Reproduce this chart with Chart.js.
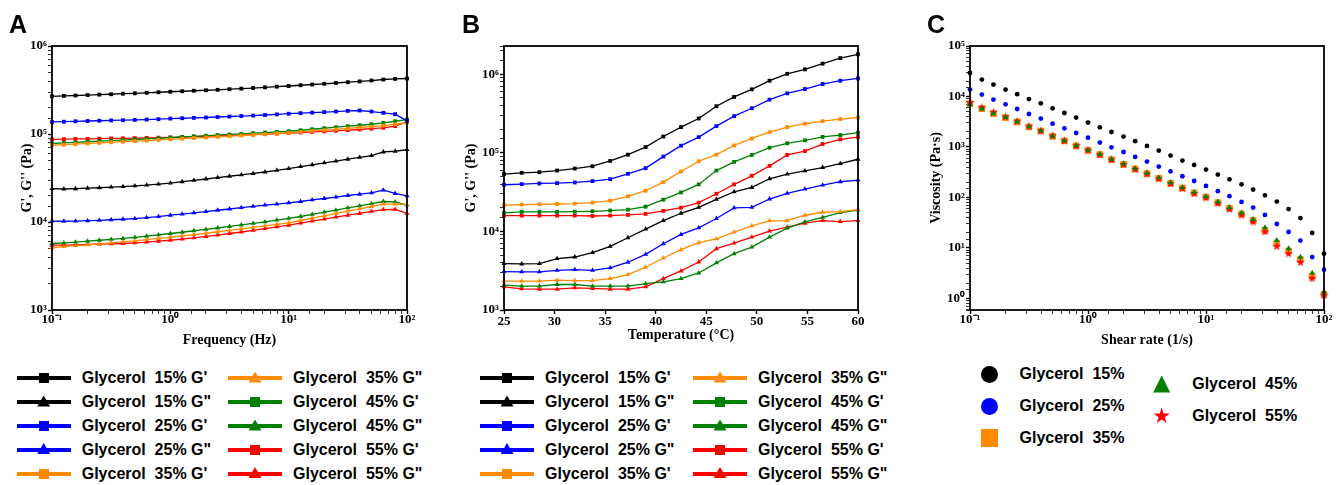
<!DOCTYPE html>
<html>
<head>
<meta charset="utf-8">
<title>Glycerol rheology</title>
<script src="https://cdn.jsdelivr.net/npm/chart.js@4"></script>
<style>
  body { margin: 0; background: #fff; }
  #wrap { position: relative; width: 1339px; height: 485px; overflow: hidden; font-family: 'Liberation Sans', Arial, sans-serif; }
  canvas { position: absolute; top: 0; }
  .tag { position: absolute; top: 12px; font: bold 25px/25px 'Liberation Sans', Arial, sans-serif; }
  .item { position: absolute; height: 20px; display: flex; align-items: center; white-space: pre; font-weight: bold; font-size: 16px; color: #000; }
  .sw { position: relative; width: 54px; height: 20px; flex: none; }
  .ln { position: absolute; left: 0; top: 8px; width: 54px; height: 4px; }
  .mk { position: absolute; }
  .sq { left: 22px; top: 5px; width: 10px; height: 10px; }
  .tri { left: 20.5px; top: 3.5px; width: 13px; height: 11px; clip-path: polygon(50% 0, 100% 100%, 0 100%); }
  .lb { margin-left: 11px; }
  .citem { position: absolute; height: 20px; display: flex; align-items: center; white-space: pre; font-weight: bold; font-size: 16px; }
  .big { width: 17px; height: 17px; flex: none; }
  .circle { border-radius: 50%; }
  .bsq { height: 18px; }
  .btri { clip-path: polygon(50% 0, 100% 100%, 0 100%); }
  .star { clip-path: polygon(50% 0, 61% 35%, 98% 35%, 68% 57%, 79% 91%, 50% 70%, 21% 91%, 32% 57%, 2% 35%, 39% 35%); }
  .clb { margin-left: 22px; }
</style>
</head>
<body>
<div id="wrap">
  <canvas id="cA" width="420" height="350" style="left:0"></canvas>
  <canvas id="cB" width="440" height="350" style="left:440px"></canvas>
  <canvas id="cC" width="439" height="350" style="left:900px"></canvas>
  <div class="tag" style="left:9px">A</div>
  <div class="tag" style="left:462px">B</div>
  <div class="tag" style="left:927px">C</div>
</div>
<script>
// ---- A: frequency sweep ----
const freqHz = [0.1, 0.126, 0.158, 0.2, 0.251, 0.316, 0.398, 0.501, 0.631, 0.794, 1, 1.26, 1.58, 2, 2.51, 3.16, 3.98, 5.01, 6.31, 7.94, 10, 12.6, 15.8, 20, 25.1, 31.6, 39.8, 50.1, 63.1, 79.4, 100];
const freqG1_15 = [268000, 271000, 274000, 277000, 280000, 283000, 287000, 290000, 294000, 298000, 302000, 306000, 310000, 314000, 318000, 323000, 328000, 333000, 339000, 345000, 351000, 358000, 365000, 372000, 380000, 388000, 396000, 405000, 416000, 423000, 427000];
const freqG2_15 = [24000, 23700, 23900, 24200, 24500, 24900, 25300, 25800, 26300, 27000, 27700, 28700, 29700, 30800, 31900, 33100, 34300, 35600, 37000, 38600, 40500, 42600, 44700, 47000, 49300, 51700, 54300, 56900, 62500, 63700, 66500];
const freqG1_25 = [137000, 138000, 139500, 140500, 141500, 142500, 143500, 144500, 146000, 147500, 149500, 151000, 152500, 154000, 156000, 158000, 160000, 162000, 164500, 167000, 170000, 172500, 175000, 177500, 180000, 183000, 185000, 180000, 174000, 168000, 141000];
const freqG2_25 = [10250, 10200, 10250, 10350, 10450, 10600, 10750, 10950, 11200, 11500, 11950, 12300, 12700, 13150, 13600, 14050, 14550, 15050, 15550, 16000, 16500, 17100, 17850, 18500, 19150, 20000, 20700, 21400, 23000, 21100, 19800];
const freqG1_35 = [74500, 75700, 76900, 78100, 79300, 80500, 81700, 83000, 84300, 85600, 87000, 88500, 90000, 91500, 93000, 94600, 96200, 97800, 99500, 101200, 103000, 105500, 108000, 110500, 113000, 115700, 118500, 121400, 124500, 129000, 135000];
const freqG2_35 = [5100, 5250, 5400, 5500, 5650, 5800, 5950, 6100, 6300, 6500, 6700, 6950, 7200, 7450, 7750, 8050, 8350, 8700, 9050, 9400, 9800, 10400, 11050, 11750, 12500, 13300, 14100, 15000, 15950, 16000, 15800];
const freqG1_45 = [78000, 79200, 80400, 81600, 82800, 84000, 85300, 86600, 87900, 89400, 91000, 92500, 94000, 95600, 97200, 98800, 100500, 102200, 103900, 105600, 107400, 110300, 113300, 116300, 119400, 122600, 125800, 129100, 133600, 139600, 146000];
const freqG2_45 = [5700, 5800, 5900, 6050, 6200, 6350, 6500, 6700, 6900, 7150, 7400, 7650, 7950, 8250, 8550, 8900, 9250, 9650, 10050, 10500, 11000, 11550, 12200, 12950, 13650, 14500, 15250, 16200, 17100, 16950, 15550];
const freqG1_55 = [87000, 87400, 87800, 88200, 88600, 89000, 89400, 89900, 90400, 90900, 91500, 92400, 93300, 94200, 95200, 96200, 97300, 98400, 99600, 101000, 102500, 104000, 105500, 107000, 108700, 110500, 112500, 114800, 117500, 123000, 137000];
const freqG2_55 = [5450, 5450, 5500, 5550, 5600, 5650, 5700, 5800, 5900, 6050, 6200, 6400, 6600, 6850, 7100, 7400, 7700, 8050, 8400, 8800, 9200, 9700, 10250, 10800, 11350, 11950, 12500, 13200, 13850, 13900, 12500];

// ---- B: temperature sweep ----
const tempC = [25, 26.75, 28.5, 30.25, 32, 33.75, 35.5, 37.25, 39, 40.75, 42.5, 44.25, 46, 47.75, 49.5, 51.25, 53, 54.75, 56.5, 58.25, 60];
const tempG1_15 = [53500, 55600, 56600, 59400, 63000, 67400, 78700, 94600, 118000, 161000, 212000, 273000, 391000, 513000, 641000, 825000, 1010000, 1150000, 1360000, 1600000, 1790000];
const tempG2_15 = [3890, 3850, 3890, 4500, 4720, 5360, 6450, 8300, 10700, 13700, 17000, 20200, 25600, 31900, 36200, 46700, 53500, 58900, 64900, 72900, 82700];
const tempG1_25 = [39200, 39900, 40700, 41100, 41900, 43600, 46200, 54000, 63700, 89400, 123000, 158000, 218000, 292000, 368000, 474000, 570000, 647000, 749000, 825000, 883000];
const tempG2_25 = [3080, 3050, 3050, 3200, 3270, 3200, 3430, 4050, 5110, 6970, 9140, 11100, 14600, 19900, 20200, 25800, 30400, 34500, 38800, 42800, 44900];
const tempG1_35 = [21500, 21900, 22100, 22300, 22500, 23200, 24600, 27900, 32900, 42300, 57700, 78000, 94600, 124000, 152000, 183000, 212000, 234000, 252000, 268000, 281000];
const tempG2_35 = [2330, 2330, 2330, 2395, 2370, 2370, 2510, 2825, 3500, 4590, 5850, 7170, 8050, 9780, 11760, 13600, 13730, 16040, 17500, 17850, 18920];
const tempG1_45 = [17200, 17700, 17700, 17700, 17800, 18000, 18400, 18900, 20600, 25300, 31300, 39600, 59400, 76600, 93800, 116000, 132000, 144000, 159000, 168000, 180000];
const tempG2_45 = [2070, 2010, 2010, 2110, 2110, 2010, 2010, 2010, 2170, 2280, 2510, 2960, 3970, 5200, 6320, 8460, 11000, 13200, 15100, 17300, 18700];
const tempG1_55 = [15900, 15900, 15900, 15900, 15900, 15700, 15900, 16200, 16700, 18200, 20000, 23200, 30100, 39600, 50900, 68100, 93800, 105000, 129000, 148000, 158000];
const tempG2_55 = [1970, 1860, 1840, 1840, 1910, 1880, 1840, 1840, 1970, 2510, 3140, 4080, 6020, 7100, 8460, 10100, 11300, 12700, 13700, 13300, 13700];

// ---- C: flow curves ----
const shearRate = [0.1, 0.126, 0.158, 0.2, 0.251, 0.316, 0.398, 0.501, 0.631, 0.794, 1, 1.26, 1.58, 2, 2.51, 3.16, 3.98, 5.01, 6.31, 7.94, 10, 12.6, 15.8, 20, 25.1, 31.6, 39.8, 50.1, 63.1, 79.4, 100];
const visc15 = [29200, 21600, 17200, 13700, 11100, 8900, 7330, 5840, 4710, 3820, 3040, 2450, 1980, 1610, 1300, 1050, 849, 676, 538, 440, 357, 284, 229, 182, 143, 110, 83, 59, 39, 19.8, 7.7];
const visc25 = [13700, 10900, 8690, 7010, 5650, 4500, 3650, 2900, 2340, 1890, 1530, 1220, 986, 796, 634, 514, 409, 330, 263, 212, 169, 133, 106, 81.5, 63, 45, 29.8, 20.7, 14, 6.6, 3.7];
const visc35 = [7230, 5750, 4580, 3820, 3130, 2490, 2070, 1630, 1320, 1050, 861, 708, 563, 454, 367, 297, 240, 191, 154, 123, 102, 79, 61, 47, 35, 22.4, 12.2, 8.7, 5.9, 2.75, 1.21];
const visc45 = [7000, 5700, 4600, 3850, 3150, 2520, 2090, 1650, 1340, 1070, 870, 715, 572, 462, 374, 303, 246, 197, 158, 127, 104, 82, 64, 49.5, 37, 25.3, 14.2, 9.7, 6.6, 3.2, 1.35];
const visc55 = [7600, 6100, 4900, 3950, 3250, 2560, 2100, 1660, 1330, 1060, 860, 705, 560, 450, 362, 293, 236, 188, 151, 120, 99, 77, 59, 45, 33, 21, 10.8, 7.7, 5.2, 2.5, 1.16];

const colors = { '15%': '#000000', '25%': '#0000ff', '35%': '#ff8c00', '45%': '#008000', '55%': '#ff0000' };
const serif = "'Liberation Serif', 'Times New Roman', serif";
Chart.defaults.font.family = serif;
Chart.defaults.color = '#000';

const supMap = { '-': '\u207b', '0': '\u2070', '1': '\u00b9', '2': '\u00b2', '3': '\u00b3', '4': '\u2074', '5': '\u2075', '6': '\u2076', '7': '\u2077', '8': '\u2078', '9': '\u2079' };
function isPow(v) { const e = Math.log10(v); return Math.abs(e - Math.round(e)) < 1e-6; }
function powLabel(v) {
  if (!isPow(v)) return '';
  return '10' + String(Math.round(Math.log10(v))).split('').map(c => supMap[c]).join('');
}

// box round the plot area
const frame = {
  id: 'frame',
  afterDatasetsDraw(chart) {
    const { ctx, chartArea: a } = chart;
    ctx.save();
    ctx.strokeStyle = '#000';
    ctx.lineWidth = 1.8;
    ctx.strokeRect(a.left, a.top, a.right - a.left, a.bottom - a.top);
    ctx.restore();
  }
};

const tickFont = { family: serif, size: 13, weight: 'bold', lineHeight: 1 };
const titleFont = { family: serif, size: 14, weight: 'bold' };

function axis(type, min, max, fit, title, titlePad, extra) {
  const horiz = fit.height !== undefined;
  return Object.assign({
    type, min, max,
    afterFit: s => { if (horiz) s.height = fit.height; else s.width = fit.width; },
    border: { display: false },
    grid: {
      drawOnChartArea: false, drawTicks: true, tickLength: 4, color: '#000',
      tickWidth: c => (type === 'logarithmic' && !isPow(c.tick.value) ? 0.8 : 1.4)
    },
    ticks: { autoSkip: false, maxRotation: 0, color: '#000', font: tickFont, padding: horiz ? -1 : 1,
      callback: type === 'logarithmic' ? v => powLabel(v) : v => v },
    title: { display: true, text: title, font: titleFont, color: '#000', padding: titlePad }
  }, extra || {});
}

function lineSet(name, color, mark, xs, ys) {
  return {
    label: name, data: xs.map((x, i) => ({ x, y: ys[i] })),
    borderColor: color, backgroundColor: color, borderWidth: 1.3,
    pointStyle: mark === 'sq' ? 'rect' : 'triangle', pointRadius: mark === 'sq' ? 2.7 : 2.9,
    pointBorderWidth: 0, tension: 0, clip: false
  };
}

// series in legend order (column by column)
const seriesA = [
  ["Glycerol  15% G'", '15%', 'sq', freqG1_15], ['Glycerol  15% G"', '15%', 'tri', freqG2_15],
  ["Glycerol  25% G'", '25%', 'sq', freqG1_25], ['Glycerol  25% G"', '25%', 'tri', freqG2_25],
  ["Glycerol  35% G'", '35%', 'sq', freqG1_35], ['Glycerol  35% G"', '35%', 'tri', freqG2_35],
  ["Glycerol  45% G'", '45%', 'sq', freqG1_45], ['Glycerol  45% G"', '45%', 'tri', freqG2_45],
  ["Glycerol  55% G'", '55%', 'sq', freqG1_55], ['Glycerol  55% G"', '55%', 'tri', freqG2_55]
];
const seriesB = [
  ["Glycerol  15% G'", '15%', 'sq', tempG1_15], ['Glycerol  15% G"', '15%', 'tri', tempG2_15],
  ["Glycerol  25% G'", '25%', 'sq', tempG1_25], ['Glycerol  25% G"', '25%', 'tri', tempG2_25],
  ["Glycerol  35% G'", '35%', 'sq', tempG1_35], ['Glycerol  35% G"', '35%', 'tri', tempG2_35],
  ["Glycerol  45% G'", '45%', 'sq', tempG1_45], ['Glycerol  45% G"', '45%', 'tri', tempG2_45],
  ["Glycerol  55% G'", '55%', 'sq', tempG1_55], ['Glycerol  55% G"', '55%', 'tri', tempG2_55]
];

const baseOpts = { responsive: false, animation: false, events: [],
  plugins: { legend: { display: false }, tooltip: { enabled: false } } };

new Chart(document.getElementById('cA'), {
  type: 'line',
  data: { datasets: seriesA.map(s => lineSet(s[0], colors[s[1]], s[2], freqHz, s[3])) },
  options: Object.assign({}, baseOpts, {
    layout: { padding: { left: 0, top: 46, right: 13, bottom: 0 } },
    scales: {
      x: axis('logarithmic', 0.1, 100, { height: 40 }, 'Frequency (Hz)', { top: 0, bottom: 1.6 }),
      y: axis('logarithmic', 1e3, 1e6, { width: 52 }, "G', G'' (Pa)", { top: 18.6, bottom: 0 })
    }
  }),
  plugins: [frame]
});

new Chart(document.getElementById('cB'), {
  type: 'line',
  data: { datasets: seriesB.map(s => lineSet(s[0], colors[s[1]], s[2], tempC, s[3])) },
  options: Object.assign({}, baseOpts, {
    layout: { padding: { left: 0, top: 46, right: 22, bottom: 0 } },
    scales: {
      x: axis('linear', 25, 60, { height: 40 }, 'Temperature (\u00b0C)', { top: 0, bottom: 6.6 },
        { ticks: { stepSize: 5, maxRotation: 0, color: '#000', font: tickFont, padding: 1 } }),
      y: axis('logarithmic', 1e3, 2.28e6, { width: 64 }, "G', G'' (Pa)", { top: 23.3, bottom: 0 })
    }
  }),
  plugins: [frame]
});

// small filled five-point star for the 55% points
const starImg = document.createElement('canvas');
starImg.width = 9; starImg.height = 9;
(function () {
  const g = starImg.getContext('2d');
  g.fillStyle = colors['55%'];
  g.beginPath();
  for (let k = 0; k < 10; k++) {
    const r = k % 2 ? 1.8 : 4.5, a = -Math.PI / 2 + k * Math.PI / 5;
    g.lineTo(4.5 + r * Math.cos(a), 4.7 + r * Math.sin(a));
  }
  g.closePath();
  g.fill();
})();

function dotSet(name, color, style, radius, ys, order) {
  return { label: name, data: shearRate.map((x, i) => ({ x, y: ys[i] })), showLine: false,
    backgroundColor: color, borderColor: color, pointStyle: style, pointRadius: radius,
    pointBorderWidth: 0, order, clip: false };
}

new Chart(document.getElementById('cC'), {
  type: 'scatter',
  data: { datasets: [
    dotSet('Glycerol 15%', colors['15%'], 'circle', 2.4, visc15, 4),
    dotSet('Glycerol 25%', colors['25%'], 'circle', 2.4, visc25, 3),
    dotSet('Glycerol 35%', colors['35%'], 'rect', 4.7, visc35, 2),
    dotSet('Glycerol 45%', colors['45%'], 'triangle', 3.3, visc45, 0),
    dotSet('Glycerol 55%', colors['55%'], starImg, 4, visc55, 1)
  ] },
  options: Object.assign({}, baseOpts, {
    layout: { padding: { left: 0, top: 46, right: 15, bottom: 0 } },
    scales: {
      x: axis('logarithmic', 0.1, 100, { height: 40 }, 'Shear rate (1/s)', { top: 0, bottom: 1.6 }),
      y: axis('logarithmic', 0.59, 1e5, { width: 70 }, 'Viscosity (Pa\u00b7s)', { top: 28.3, bottom: 0 })
    }
  }),
  plugins: [frame]
});

// ---- HTML legends ----
const wrap = document.getElementById('wrap');
const rowY = [378, 402, 426, 449.5, 473.5];
function lineLegend(series, x0, x1) {
  series.forEach((s, k) => {
    const col = Math.floor(k / 5), row = k % 5, c = colors[s[1]];
    const div = document.createElement('div');
    div.className = 'item';
    div.style.left = (col ? x1 : x0) + 'px';
    div.style.top = (rowY[row] - 10) + 'px';
    div.innerHTML = '<span class="sw"><span class="ln" style="background:' + c + '"></span>' +
      '<span class="mk ' + s[2] + '" style="background:' + c + '"></span></span><span class="lb"></span>';
    div.querySelector('.lb').textContent = s[0];
    wrap.appendChild(div);
  });
}
lineLegend(seriesA, 16.7, 228);
lineLegend(seriesB, 480, 693);

const legendC = [
  ['Glycerol  15%', '15%', 'circle', 980.5, 374],
  ['Glycerol  25%', '25%', 'circle', 980.5, 406],
  ['Glycerol  35%', '35%', 'bsq', 980.5, 437.5],
  ['Glycerol  45%', '45%', 'btri', 1153.2, 384],
  ['Glycerol  55%', '55%', 'star', 1153.2, 416]
];
legendC.forEach(s => {
  const div = document.createElement('div');
  div.className = 'citem';
  div.style.left = s[3] + 'px';
  div.style.top = (s[4] - 10) + 'px';
  div.innerHTML = '<span class="big ' + s[2] + '" style="background:' + colors[s[1]] + '"></span><span class="clb"></span>';
  div.querySelector('.clb').textContent = s[0];
  wrap.appendChild(div);
});
</script>
</body>
</html>
